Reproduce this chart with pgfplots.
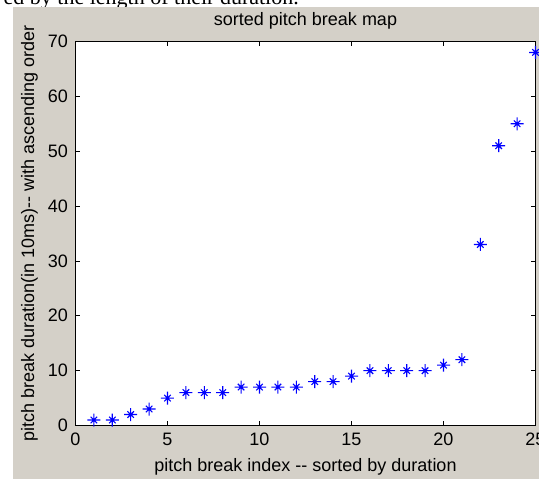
\documentclass[border=0pt]{standalone}
\usepackage{fontspec}
\setmainfont{Liberation Sans}[Ligatures=TeXOff]
\newfontfamily\docserif{Liberation Serif}
\usepackage{pgfplots}
\pgfplotsset{compat=1.18}

\definecolor{figgray}{RGB}{212,208,200}
\definecolor{mblue}{RGB}{0,0,255}

% MATLAB style asterisk: plus with shorter diagonals
\pgfdeclareplotmark{matstar}{%
  \pgfpathmoveto{\pgfqpoint{-\pgfplotmarksize}{0pt}}%
  \pgfpathlineto{\pgfqpoint{\pgfplotmarksize}{0pt}}%
  \pgfpathmoveto{\pgfqpoint{0pt}{-\pgfplotmarksize}}%
  \pgfpathlineto{\pgfqpoint{0pt}{\pgfplotmarksize}}%
  \pgfpathmoveto{\pgfqpoint{-0.5\pgfplotmarksize}{-0.5\pgfplotmarksize}}%
  \pgfpathlineto{\pgfqpoint{0.5\pgfplotmarksize}{0.5\pgfplotmarksize}}%
  \pgfpathmoveto{\pgfqpoint{-0.5\pgfplotmarksize}{0.5\pgfplotmarksize}}%
  \pgfpathlineto{\pgfqpoint{0.5\pgfplotmarksize}{-0.5\pgfplotmarksize}}%
  \pgfusepathqstroke}

\begin{document}
\begin{tikzpicture}
\useasboundingbox (0pt,0pt) rectangle (539pt,479pt);
\clip (0pt,0pt) rectangle (539pt,479pt);
\fill[white] (0pt,0pt) rectangle (539pt,479pt);
\node[font=\docserif\fontsize{22}{22}\selectfont, anchor=base east, inner sep=0pt] at (299pt,474pt) {ed by the length of their duration.};
\fill[figgray] (13pt,0pt) rectangle (545pt,472pt);
\begin{axis}[
    at={(75.5pt,53.5pt)}, anchor=south west,
    width=460pt, height=384pt, scale only axis,
    xmin=0, xmax=25, ymin=0, ymax=70,
    xtick={0,5,...,25}, ytick={0,10,...,70},
    tick align=inside, tick pos=both,
    major tick length=4.6pt,
    axis line style={black, line width=0.8pt},
    every tick/.style={black, line width=0.8pt},
    axis background/.style={fill=white},
    clip=false,
    font=\fontsize{18}{18}\selectfont,
    /pgf/number format/assume math mode=true,
    xticklabel style={anchor=north, inner sep=0pt, yshift=-7.5pt},
    yticklabel style={anchor=east, inner sep=0pt, xshift=-7.5pt},
    every axis title shift=0pt,
    title={sorted pitch break map},
    title style={at={(axis description cs:0.5,1.04036)}, anchor=base, inner sep=0pt},
    xlabel={pitch break index -- sorted by duration},
    xlabel style={at={(axis description cs:0.5,-0.12109)}, anchor=base, inner sep=0pt},
    ylabel={pitch break duration(in 10ms)-- with ascending order},
    ylabel style={at={(axis description cs:-0.0902,0.5)}, anchor=base, inner sep=0pt},
]
\addplot[only marks, mark=matstar, mark size=6.5pt, mblue, line width=1.1pt] coordinates {
(1,1) (2,1) (3,2) (4,3) (5,5) (6,6) (7,6) (8,6) (9,7) (10,7)
(11,7) (12,7) (13,8) (14,8) (15,9) (16,10) (17,10) (18,10) (19,10) (20,11)
(21,12) (22,33) (23,51) (24,55) (25,68)};
\end{axis}
\end{tikzpicture}
\end{document}
